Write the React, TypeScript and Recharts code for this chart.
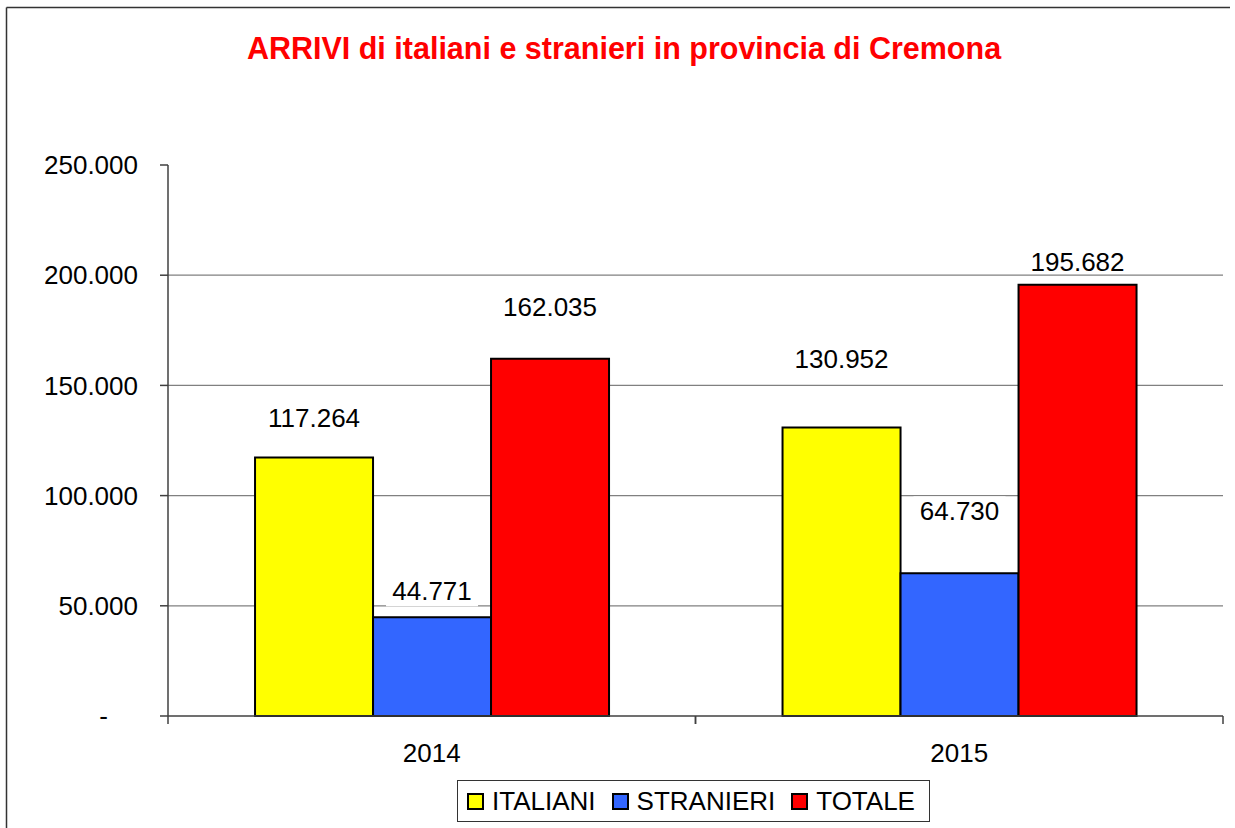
import React from 'react';
import { BarChart, Bar, XAxis, YAxis, CartesianGrid, Legend, LabelList } from 'recharts';

const YEARS = ['2014', '2015'];
const ITALIANI = [117264, 130952];
const STRANIERI = [44771, 64730];
const TOTALE = [162035, 195682];
const Y_TICKS = [0, 50000, 100000, 150000, 200000, 250000];
const GRID_VALUES = [50000, 100000, 150000, 200000];
const TITLE = 'ARRIVI di italiani e stranieri in provincia di Cremona';

const data = YEARS.map((year, i) => ({
  year,
  ITALIANI: ITALIANI[i],
  STRANIERI: STRANIERI[i],
  TOTALE: TOTALE[i],
}));

// label lift above bar top (px) per point, as placed in the original
const SERIES = [
  { key: 'ITALIANI', color: '#FFFF00', lift: [40, 69], boxed: false },
  { key: 'STRANIERI', color: '#3366FF', lift: [27, 63], boxed: true },
  { key: 'TOTALE', color: '#FF0000', lift: [52, 23], boxed: false },
];

const FONT = '"Liberation Sans", Arial, Helvetica, sans-serif';
const AXIS = '#404040';
const X_TICK_MARGIN = 28;

const fmt = (v: number) =>
  v === 0 ? '-' : String(v).replace(/\B(?=(\d{3})+(?!\d))/g, '.');

const makeLabel = (s: typeof SERIES[number]) => (props: any) => {
  const x = Number(props.x);
  const y = Number(props.y);
  const w = Number(props.width);
  const idx = Number(props.index);
  const cx = x + w / 2;
  const cy = y - s.lift[idx];
  return (
    <g>
      {s.boxed && <rect x={cx - 46} y={cy - 14} width={92} height={30} fill="#ffffff" />}
      <text x={cx} y={cy} dy="0.355em" textAnchor="middle" fontSize={26} fontFamily={FONT} fill="#000">
        {fmt(Number(props.value))}
      </text>
    </g>
  );
};

const YTick = (props: any) => {
  const { x, y, payload } = props;
  const v = Number(payload.value);
  return (
    <text x={v === 0 ? Number(x) - 30 : Number(x)} y={y} dy="0.355em" textAnchor="end" fontSize={26} fontFamily={FONT} fill="#000">
      {fmt(v)}
    </text>
  );
};

const XTick = (props: any) => {
  const { x, y, payload, width } = props;
  const half =
    payload && typeof payload.offset === 'number' && payload.offset > 0
      ? payload.offset
      : Number(width) / YEARS.length / 2;
  const axisY = Number(y) - X_TICK_MARGIN;
  const cx = Number(x);
  return (
    <g>
      <line x1={cx - half} x2={cx - half} y1={axisY} y2={axisY + 8} stroke={AXIS} strokeWidth={1.5} />
      <line x1={cx + half} x2={cx + half} y1={axisY} y2={axisY + 8} stroke={AXIS} strokeWidth={1.5} />
      <text x={cx} y={y} dy="0.71em" textAnchor="middle" fontSize={26} fontFamily={FONT} fill="#000">
        {payload.value}
      </text>
    </g>
  );
};

const LegendBox = () => (
  <div
    style={{
      boxSizing: 'border-box', width: 473, height: 42, border: '1px solid #333', background: '#fff',
      display: 'flex', alignItems: 'center', paddingLeft: 9, fontFamily: FONT, fontSize: 26,
      color: '#000', whiteSpace: 'nowrap',
    }}
  >
    {SERIES.map((s) => (
      <div key={s.key} style={{ display: 'flex', alignItems: 'center', marginRight: 16 }}>
        <div style={{ boxSizing: 'border-box', width: 17, height: 17, background: s.color, border: '2px solid #000', marginRight: 8 }} />
        <span style={{ lineHeight: '26px' }}>{s.key}</span>
      </div>
    ))}
  </div>
);

export default function App() {
  return (
    <div style={{ position: 'absolute', left: 0, top: 0, width: 1235, height: 828, overflow: 'hidden', background: '#fff' }}>
      <BarChart
        width={1235}
        height={828}
        data={data}
        margin={{ top: 165, right: 12, bottom: 0, left: 0 }}
        barGap={0}
        barCategoryGap="16.5%"
      >
        <CartesianGrid horizontal vertical={false} horizontalValues={GRID_VALUES} stroke="#808080" strokeWidth={1.2} />
        <XAxis
          dataKey="year" height={112} axisLine={{ stroke: AXIS, strokeWidth: 1.5 }} tickLine={false}
          tickSize={0} tickMargin={X_TICK_MARGIN} tick={<XTick />} interval={0}
        />
        <YAxis
          width={168} domain={[0, 250000]} ticks={Y_TICKS} interval={0}
          axisLine={{ stroke: AXIS, strokeWidth: 1.5 }} tickLine={{ stroke: AXIS, strokeWidth: 1.5 }}
          tickSize={8} tickMargin={22} tick={<YTick />}
        />
        <Legend
          layout="horizontal" verticalAlign="middle" align="center"
          content={() => <LegendBox />}
          wrapperStyle={{ left: 457, top: 780, width: 473, height: 42 }}
        />
        {SERIES.map((s) => (
          <Bar key={s.key} dataKey={s.key} fill={s.color} stroke="#000" strokeWidth={2} isAnimationActive={false}>
            <LabelList dataKey={s.key} content={makeLabel(s)} />
          </Bar>
        ))}
      </BarChart>
      <svg width={1235} height={828} style={{ position: 'absolute', left: 0, top: 0, pointerEvents: 'none' }}>
        <line x1={6.5} y1={7.5} x2={1230} y2={7.5} stroke="#333" strokeWidth={1.5} />
        <line x1={6.5} y1={7.5} x2={6.5} y2={828} stroke="#333" strokeWidth={1.5} />
        <text x={624} y={59} textAnchor="middle" fontSize={30.5} fontWeight="bold" fontFamily={FONT} fill="#FF0000">
          {TITLE}
        </text>
      </svg>
    </div>
  );
}
